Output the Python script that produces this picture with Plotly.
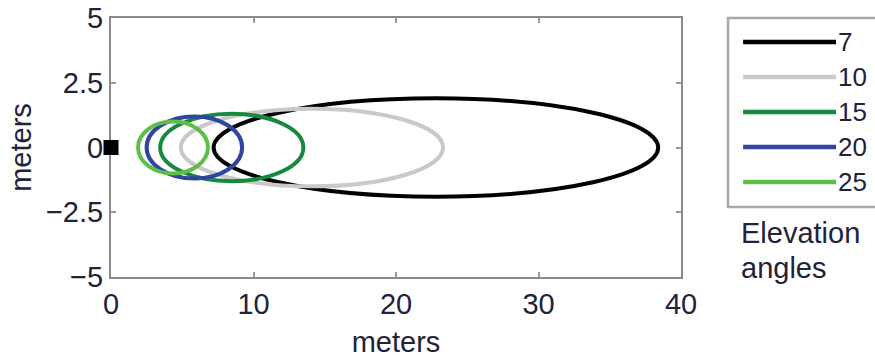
import plotly.graph_objects as go

# Data
angles = [7, 10, 15, 20, 25]
x_near = [7.2, 4.9, 3.45, 2.5, 1.9]
x_far = [38.4, 23.3, 13.5, 9.2, 6.8]
half_width = [1.9, 1.5, 1.3, 1.2, 1.0]
colors = ["#000000", "#c9c9c9", "#148a3e", "#2f44a3", "#5dbf47"]
origin_x = [0]
origin_y = [0]
x_ticks = [0, 10, 20, 30, 40]
y_ticks = [-5, -2.5, 0, 2.5, 5]
y_tick_text = ["\u22125", "\u22122.5", "0", "2.5", "5"]

FONT = "Liberation Sans, Arial, sans-serif"
TXT = "#22223a"

fig = go.Figure()
fig.add_trace(go.Scatter(x=origin_x, y=origin_y, mode="markers",
                         marker=dict(symbol="square", size=15, color="black"),
                         cliponaxis=False, showlegend=False, hoverinfo="skip"))

shapes = []
for a, x0, x1, hw, c in zip(angles, x_near, x_far, half_width, colors):
    shapes.append(dict(type="circle", xref="x", yref="y", x0=x0, x1=x1,
                       y0=-hw, y1=hw, line=dict(color=c, width=4), layer="above"))

# manual legend
shapes.append(dict(type="rect", xref="paper", yref="paper", x0=1.0825, x1=1.45,
                   y0=0.27, y1=1.0, line=dict(color="#a8a8a8", width=2.5),
                   fillcolor="white", layer="below"))
leg_y = [0.907, 0.772, 0.637, 0.502, 0.367]
annotations = []
for a, c, yy in zip(angles, colors, leg_y):
    shapes.append(dict(type="line", xref="paper", yref="paper", x0=1.109, x1=1.272,
                       y0=yy, y1=yy, line=dict(color=c, width=4.5)))
    annotations.append(dict(xref="paper", yref="paper", x=1.272, y=yy, text=str(a),
                            showarrow=False, xanchor="left", yanchor="middle",
                            font=dict(family=FONT, size=26, color=TXT)))
annotations.append(dict(xref="paper", yref="paper", x=1.102, y=0.17, text="Elevation",
                        showarrow=False, xanchor="left", yanchor="middle",
                        font=dict(family=FONT, size=29, color=TXT)))
annotations.append(dict(xref="paper", yref="paper", x=1.102, y=0.035, text="angles",
                        showarrow=False, xanchor="left", yanchor="middle",
                        font=dict(family=FONT, size=29, color=TXT)))

axis_common = dict(showgrid=False, zeroline=False, showline=True, linecolor="#8a8a8a",
                   linewidth=2, mirror="ticks", ticks="inside", ticklen=5,
                   tickcolor="#9a9a9a", tickwidth=2, automargin=False,
                   layer="below traces",
                   tickfont=dict(family=FONT, size=29, color=TXT))

fig.update_layout(
    width=875, height=358,
    margin=dict(l=111, r=194, t=18, b=81),
    paper_bgcolor="white", plot_bgcolor="white",
    showlegend=False,
    shapes=shapes, annotations=annotations,
    xaxis=dict(range=[0, 40], tickvals=x_ticks, ticktext=[str(v) for v in x_ticks],
               title=dict(text="meters", font=dict(family=FONT, size=29, color=TXT), standoff=16),
               **axis_common),
    yaxis=dict(range=[-5, 5], tickvals=y_ticks, ticktext=y_tick_text,
               title=dict(text="meters", font=dict(family=FONT, size=29, color=TXT), standoff=6),
               **axis_common),
)

fig.write_html("out.html")
